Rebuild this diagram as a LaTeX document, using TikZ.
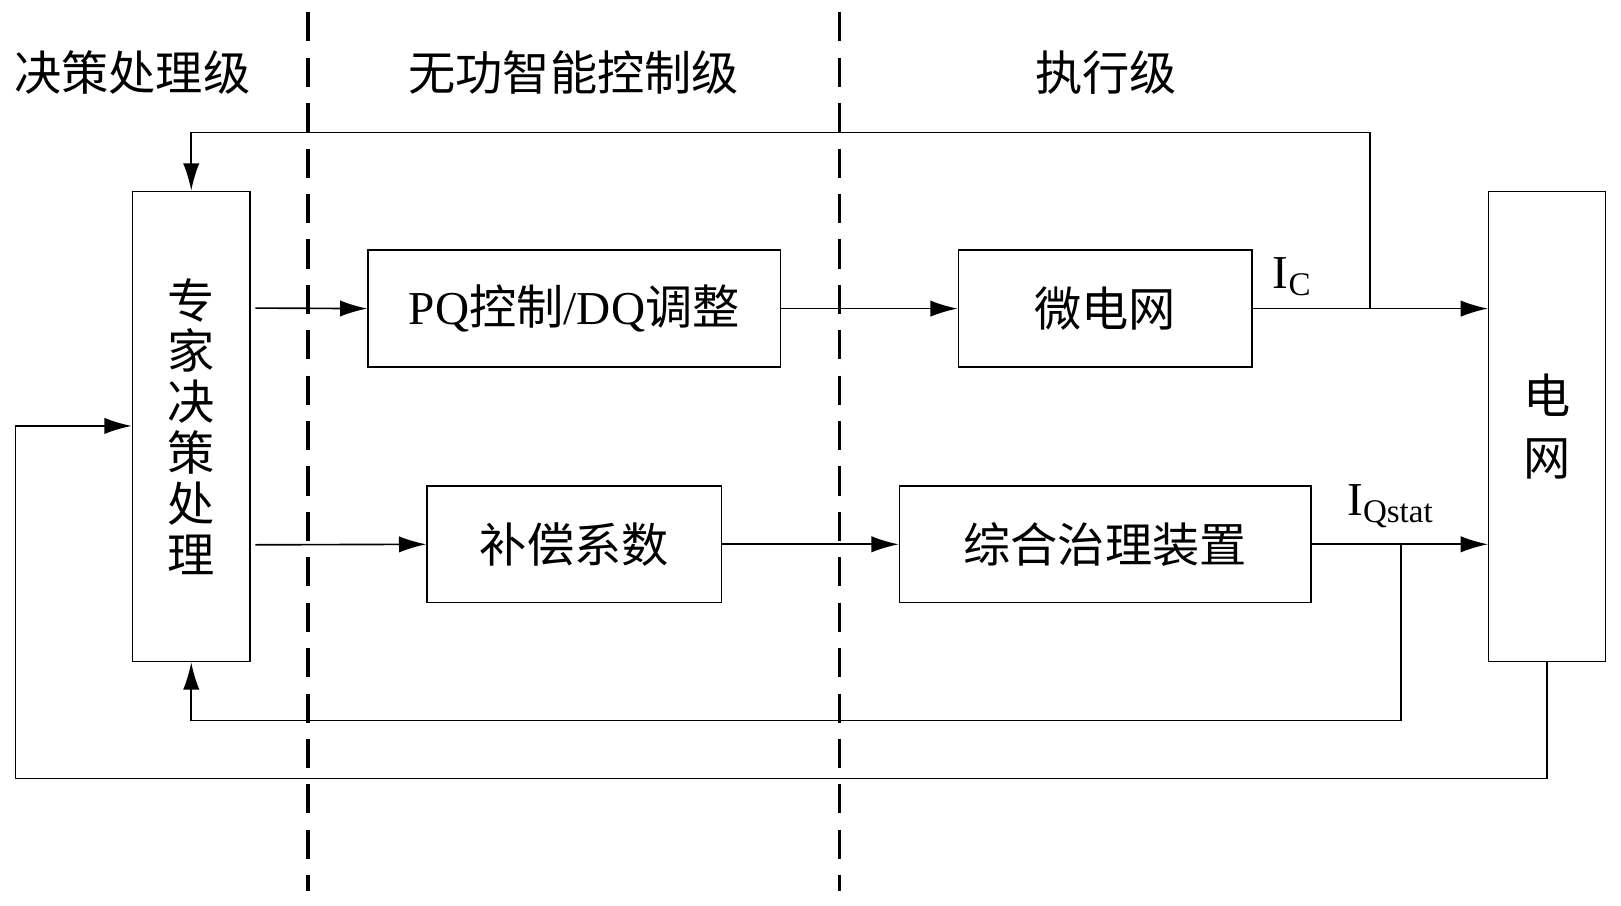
\documentclass[tikz,border=0pt]{standalone}
\usepackage{fontspec}
\setmainfont{Liberation Serif}
\newfontfamily\cjk{Noto Sans CJK SC}
\usetikzlibrary{arrows.meta}
\tikzset{
    blk/.style={draw, thick, minimum height=113*0.02cm, inner sep=0pt},
    arr/.style={-{Latex[length=15pt,width=9pt]}},
    lbl/.style={font=\fontsize{26}{30}\selectfont}
}
\begin{document}
\begin{tikzpicture}[x=0.02cm, y=-0.02cm, line width=0.9pt]
    \useasboundingbox (0,0) rectangle (1568,876);
    \draw[line width=2pt, dash pattern=on 16pt off 9pt] (298, 12) -- (298, 862);
    \draw[line width=2pt, dash pattern=on 16pt off 9pt] (812, 12) -- (812, 862);
    \node[lbl] (t1) at (128, 70) {\cjk 决策处理级};
    \node[lbl] (t2) at (555, 70) {\cjk 无功智能控制级};
    \node[lbl] (t3) at (1070, 70) {\cjk 执行级};

    \node[blk, lbl, minimum width=114*0.02cm, minimum height=455*0.02cm, align=center]
        (expert) at (185, 412.5) {\cjk 专\\[-2pt]\cjk 家\\[-2pt]\cjk 决\\[-2pt]\cjk 策\\[-2pt]\cjk 处\\[-2pt]\cjk 理};
    \node[blk, lbl, minimum width=113*0.02cm, minimum height=455*0.02cm, align=center]
        (grid) at (1496.5, 412.5) {\cjk 电\\[4pt]\cjk 网};
    \node[blk, lbl, minimum width=399*0.02cm] (pq) at (555.5, 298.5) {PQ{\cjk 控制}/DQ{\cjk 调整}};
    \node[blk, lbl, minimum width=284*0.02cm] (micro) at (1069, 298.5) {\cjk 微电网};
    \node[blk, lbl, minimum width=285*0.02cm] (coef) at (555.5, 526.5) {\cjk 补偿系数};
    \node[blk, lbl, minimum width=398*0.02cm] (stat) at (1069, 526.5) {\cjk 综合治理装置};

    % upper branch
    \draw[arr] (247, 298) -- (pq.west);
    \draw[arr] (pq.east) -- (micro.west);
    \draw[arr] (micro.east) -- (grid.west |- micro.east);
    \node[lbl] (ic) at (1250, 268) {I\textsubscript{C}};
    \draw[arr] (1325, 298) |- (185, 128) -- (expert.north);

    % lower branch
    \draw[arr] (247, 527) -- (coef.west);
    \draw[arr] (coef.east) -- (stat.west);
    \draw[arr] (stat.east) -- (grid.west |- stat.east);
    \node[lbl] (iq) at (1345, 490) {I\textsubscript{Qstat}};
    \draw[arr] (1355, 527) |- (185, 697) -- (expert.south);

    % feedback from grid
    \draw[arr] (grid.south) |- (15, 753) |- (expert.west |- 0, 412);
\end{tikzpicture}
\end{document}
